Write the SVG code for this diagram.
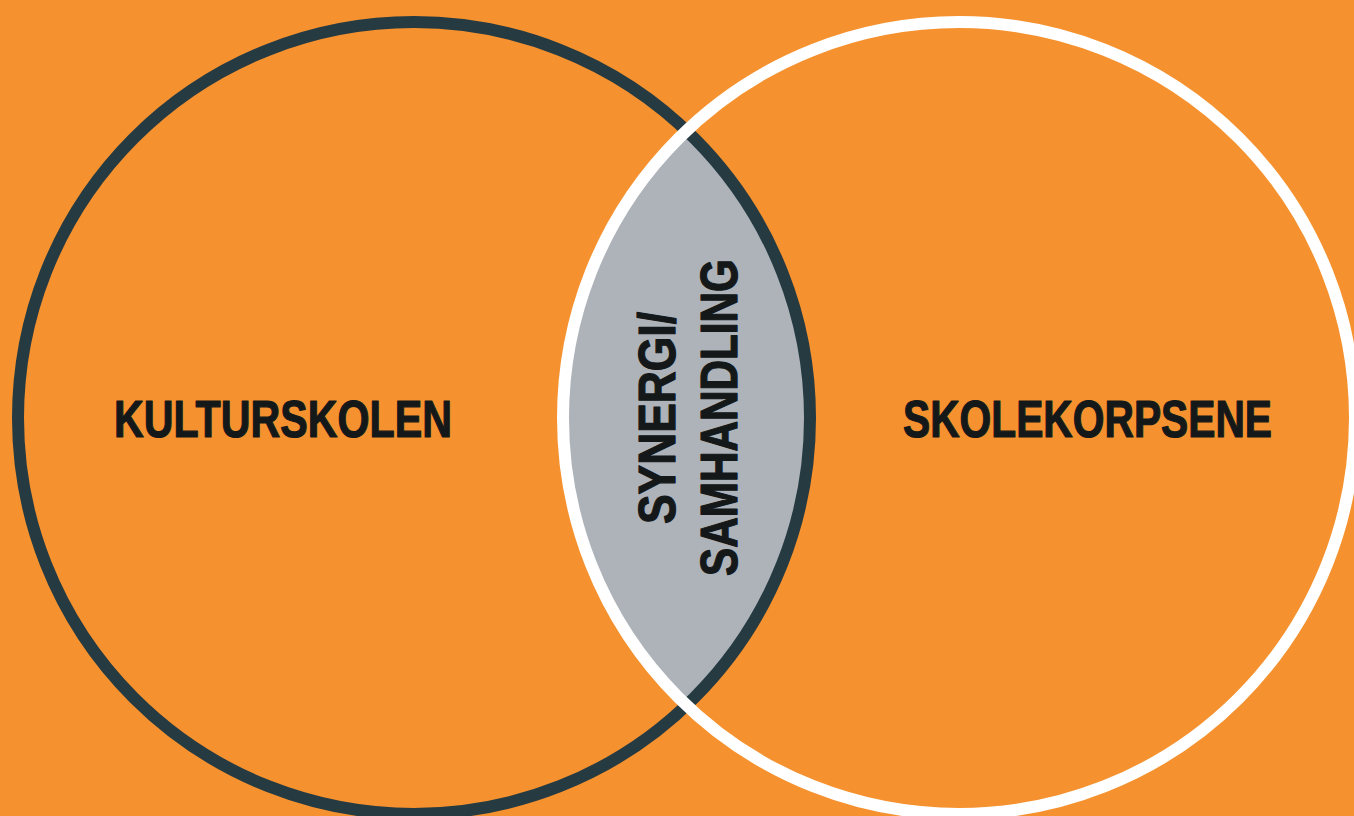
<svg xmlns="http://www.w3.org/2000/svg" width="1354" height="816" viewBox="0 0 1354 816">
<style>
.lbl{font-family:"Liberation Sans","DejaVu Sans",sans-serif;font-weight:bold;font-size:51px;fill:#141819;stroke:#141819;stroke-width:1.2px;stroke-linejoin:round;}
</style>
<defs>
<clipPath id="rightClip"><circle cx="959" cy="418" r="396"/></clipPath>
</defs>
<rect width="1354" height="816" fill="#F5922F"/>
<g id="overlap">
<circle cx="414" cy="418" r="396" fill="#ADB3B9" clip-path="url(#rightClip)"/>
</g>
<g id="kulturskolen">
<circle cx="414" cy="418" r="396" fill="none" stroke="#263A42" stroke-width="12"/>
<text class="lbl" x="114" y="437" textLength="338" lengthAdjust="spacingAndGlyphs">KULTURSKOLEN</text>
</g>
<g id="skolekorpsene">
<circle cx="959" cy="418" r="396" fill="none" stroke="#FFFFFF" stroke-width="12"/>
<text class="lbl" x="903" y="437" textLength="369" lengthAdjust="spacingAndGlyphs">SKOLEKORPSENE</text>
</g>
<g id="synergi">
<text class="lbl" transform="translate(675,524) rotate(-90)" x="0" y="0" textLength="212" lengthAdjust="spacingAndGlyphs">SYNERGI/</text>
<text class="lbl" transform="translate(737,576) rotate(-90)" x="0" y="0" textLength="317" lengthAdjust="spacingAndGlyphs">SAMHANDLING</text>
</g>
</svg>
